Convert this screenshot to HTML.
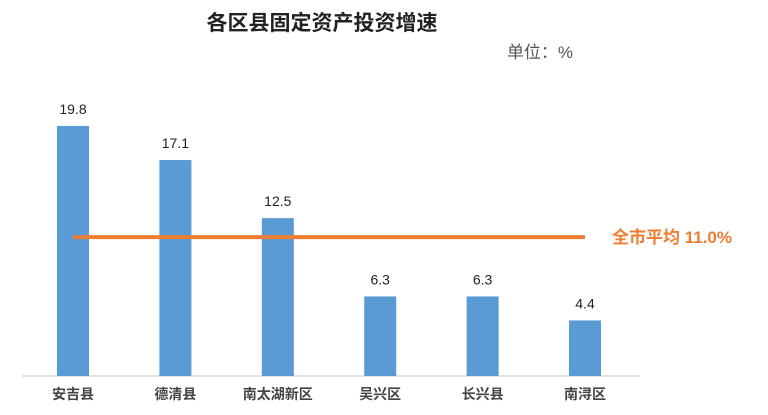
<!DOCTYPE html>
<html><head><meta charset="utf-8"><style>
html,body{margin:0;padding:0;background:#fff;width:768px;height:415px;overflow:hidden}
svg text{font-family:"Liberation Sans","Noto Sans CJK SC",sans-serif}
</style></head><body>
<svg id="c" width="768" height="415" xmlns="http://www.w3.org/2000/svg">
<text x="322" y="30" text-anchor="middle" font-size="21" font-weight="bold" fill="#222">各区县固定资产投资增速</text>
<text x="540" y="58" text-anchor="middle" font-size="17" fill="#555">单位：%</text>
<line x1="22" y1="376" x2="640" y2="376" stroke="#d9d9d9" stroke-width="1.5"/>
</svg>
<script>
const categories=["安吉县","德清县","南太湖新区","吴兴区","长兴县","南浔区"];
const values=[19.8,17.1,12.5,6.3,6.3,4.4];
const valueLabels=["19.8","17.1","12.5","6.3","6.3","4.4"];
const average=[11.0];
const avgLabel=["全市平均 11.0%"];
const svg=document.getElementById('c');const NS="http://www.w3.org/2000/svg";
const y0=376,scale=12.63,x0=73,step=102.4,bw=32;
const xs=i=>x0+i*step, ys=v=>y0-v*scale;
function mk(t,a){const e=document.createElementNS(NS,t);for(const k in a)e.setAttribute(k,a[k]);svg.appendChild(e);return e;}
categories.forEach((c,i)=>{
 const b=mk('rect',{x:xs(i)-bw/2,y:ys(values[i]),width:bw,height:y0-ys(values[i]),fill:'#5b9bd5'});
 
 
 const t=mk('text',{x:xs(i),y:ys(values[i])-12,'text-anchor':'middle','font-size':14,fill:'#222'});t.textContent=valueLabels[i];
 
 
 const l=mk('text',{x:xs(i),y:399,'text-anchor':'middle','font-size':14,'font-weight':'bold',fill:'#444'});l.textContent=c;
 
 
});
const ay=ys(average[0]);
const al=mk('line',{x1:xs(0),x2:xs(5),y1:ay,y2:ay,stroke:'#ed7d31','stroke-width':4});


const at=mk('text',{x:612,y:ay+6,'font-size':17,'font-weight':'bold',fill:'#ed7d31'});at.textContent=avgLabel[0];


</script>
</body></html>
